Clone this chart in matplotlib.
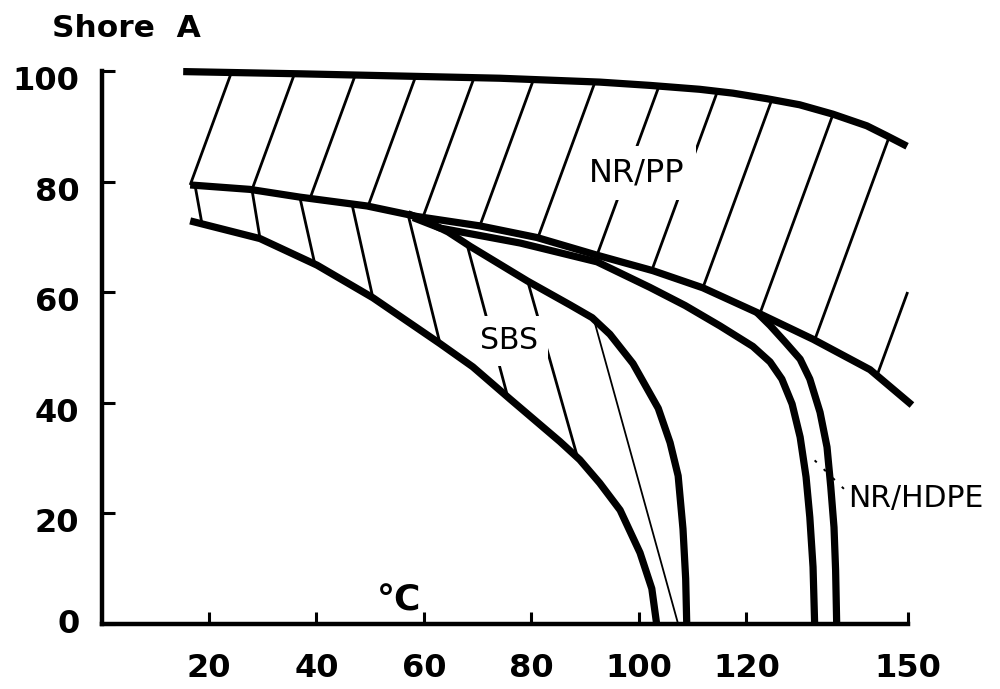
import numpy as np
import matplotlib
matplotlib.use("Agg")
import matplotlib.pyplot as plt
from matplotlib.transforms import ScaledTranslation

# ---------------- data ----------------
x_ticks = [20, 40, 60, 80, 100, 120, 150]
y_ticks = [0, 20, 40, 60, 80, 100]

# NR/PP band, upper boundary
pp_top_x = [15.2, 36.9, 74.1, 92.7, 102.1, 111.3, 117.5, 123.8, 129.9, 136.1, 142.4, 146.1, 149.9]
pp_top_y = [99.9, 99.5, 98.7, 98.0, 97.4, 96.7, 96.0, 95.0, 93.9, 92.2, 90.1, 88.3, 86.4]
# NR/PP band, lower boundary
pp_low_x = [16.5, 27.6, 36.9, 49.4, 58.7, 70.4, 81.0, 92.2, 102.6, 111.9, 122.5, 132.4, 143.0, 150.8]
pp_low_y = [79.4, 78.6, 77.2, 75.6, 73.7, 72.0, 69.9, 66.7, 63.9, 60.8, 56.1, 51.5, 46.0, 39.6]
# SBS band, lower boundary
sbs_low_x = [16.5, 29.5, 40.1, 50.5, 63.0, 69.1, 76.0, 85.3, 89.0, 92.7, 96.5, 100.2, 102.4, 103.3]
sbs_low_y = [72.9, 69.7, 64.9, 59.0, 50.7, 46.5, 40.7, 33.0, 29.7, 25.5, 20.6, 12.9, 6.4, 0.0]
# SBS band, upper boundary (branches off the NR/PP lower curve)
sbs_up_x = [57.0, 60.5, 64.5, 68.6, 79.3, 87.2, 91.3, 94.6, 98.9, 103.6, 105.8, 107.3, 108.2, 108.7, 108.9]
sbs_up_y = [74.2, 72.8, 70.9, 68.3, 62.0, 57.7, 55.4, 52.4, 47.1, 39.0, 32.8, 26.8, 17.2, 8.2, 0.0]
# NR/HDPE curves
hdpe1_x = [58.0, 63.0, 77.9, 92.2, 102.0, 108.6, 115.1, 121.2, 124.4, 126.6, 128.5, 130.0,
           131.1, 131.8, 132.4, 132.7]
hdpe1_y = [73.5, 71.6, 68.9, 65.5, 60.9, 57.6, 53.9, 50.2, 47.4, 44.3, 39.8, 33.8,
           26.6, 19.3, 10.3, 0.0]
hdpe2_x = [122.0, 124.4, 127.2, 130.0, 131.8, 133.7, 135.0, 135.7, 136.3, 136.6, 136.8]
hdpe2_y = [56.3, 54.0, 51.0, 47.9, 44.3, 38.3, 32.0, 24.8, 17.5, 9.7, 0.0]

# hatch lines
pp_hatch_x = [16.5, 28.0, 38.8, 49.6, 59.8, 70.4, 81.2, 92.2, 102.4, 111.9, 122.5, 132.7, 144.3]
pp_hatch_slope = 2.65
sbs_hatch_top_x = [17.4, 28.0, 36.9, 46.6, 57.0, 68.0, 79.3, 91.6]
sbs_hatch_bot_x = [18.7, 29.5, 39.7, 50.5, 63.0, 75.6, 88.6, 107.3]

# ---------------- figure ----------------
fig = plt.figure(figsize=(10, 6.89), dpi=100)
ax = fig.add_axes([0.1015, 0.0943, 0.8115, 0.8026])
ax.set_xlim(0, 151)
ax.set_ylim(0, 100)

K = "black"
THICK = 5.2

# NR/PP hatch lines (from lower boundary up to upper boundary)
for xb in pp_hatch_x:
    yb = np.interp(xb, pp_low_x, pp_low_y)
    xs = np.linspace(xb, 150, 3000)
    ys = yb + pp_hatch_slope * (xs - xb)
    lim = np.interp(xs, pp_top_x, pp_top_y) - 0.5
    hit = np.nonzero(ys >= lim)[0]
    i = hit[0] if len(hit) else len(xs) - 1
    ax.plot([xb, xs[i]], [yb, ys[i]], color=K, lw=2.0, zorder=2,
            solid_capstyle="butt", clip_on=False)

# SBS hatch lines
sbs_top_bx = [x for x in pp_low_x if x < sbs_up_x[0]] + sbs_up_x
sbs_top_by = [y for x, y in zip(pp_low_x, pp_low_y) if x < sbs_up_x[0]] + sbs_up_y
for k, (xt, xb) in enumerate(zip(sbs_hatch_top_x, sbs_hatch_bot_x)):
    yt = np.interp(xt, sbs_top_bx, sbs_top_by)
    yb = np.interp(xb, sbs_low_x, sbs_low_y)
    ax.plot([xt, xb], [yt, yb], color=K, lw=1.3 if k == len(sbs_hatch_top_x) - 1 else 2.0,
            zorder=2, solid_capstyle="butt", clip_on=False)

# boundary curves
for cx, cy in [(pp_top_x, pp_top_y), (pp_low_x, pp_low_y), (sbs_low_x, sbs_low_y),
               (sbs_up_x, sbs_up_y), (hdpe1_x, hdpe1_y), (hdpe2_x, hdpe2_y)]:
    ax.plot(cx, cy, color=K, lw=THICK, zorder=4, solid_capstyle="butt",
            solid_joinstyle="round", clip_on=False)

# leader for NR/HDPE
ax.plot([132.7, 138.3], [29.6, 24.3], color=K, lw=1.4, ls=(0, (1.5, 5)), zorder=5, clip_on=False)

# labels
box = dict(boxstyle="square,pad=0.35", facecolor="white", edgecolor="none")
ax.text(99.6, 80.0, "NR/PP", fontsize=23, family="DejaVu Sans", ha="center",
        va="baseline", bbox=box, zorder=3)
ax.text(75.8, 49.7, "SBS", fontsize=21.5, family="DejaVu Sans", ha="center",
        va="baseline", bbox=box, zorder=3)
ax.text(138.9, 21.1, "NR/HDPE", fontsize=21.5, family="DejaVu Sans", ha="left",
        va="baseline", zorder=6)
ax.text(51.3, 2.4, "°C", fontsize=26, family="DejaVu Sans", fontweight="bold",
        ha="left", va="baseline", zorder=6)
fig.text(0.052, 1 - 37 / 689, "Shore  A", fontsize=22.5, family="DejaVu Sans",
         fontweight="bold", ha="left", va="baseline")

# axes styling
for s in ("top", "right"):
    ax.spines[s].set_visible(False)
ax.spines["left"].set_bounds(0, 100)
ax.spines["bottom"].set_bounds(0, 150)
for s in ("left", "bottom"):
    ax.spines[s].set_linewidth(3.2)
    ax.spines[s].set_capstyle("projecting")

ax.set_xticks(x_ticks)
ax.set_xticklabels([str(v) for v in x_ticks])
ax.set_yticks(y_ticks)
ax.set_yticklabels([str(v) for v in y_ticks])
ax.tick_params(axis="both", direction="in", length=9, width=2.2, colors=K)
ax.tick_params(axis="x", pad=21)
ax.tick_params(axis="y", pad=16)
for lab in ax.get_xticklabels() + ax.get_yticklabels():
    lab.set_fontfamily("DejaVu Sans")
    lab.set_fontweight("bold")
    lab.set_fontsize(23)

for lab, v in zip(ax.get_yticklabels(), y_ticks):
    if v == 0:
        lab.set_va("center")
    else:
        lab.set_va("top")
        lab.set_transform(lab.get_transform() + ScaledTranslation(0, 5 / 100, fig.dpi_scale_trans))

fig.savefig("out.png", dpi=100, facecolor="white")
